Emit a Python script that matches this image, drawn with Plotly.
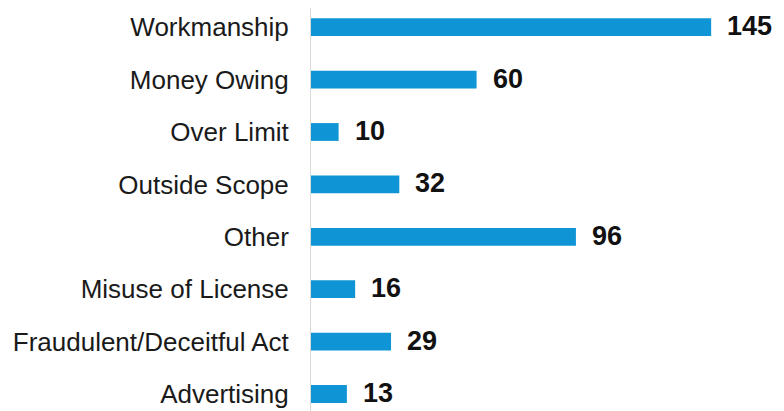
import plotly.graph_objects as go

categories = ["Workmanship", "Money Owing", "Over Limit", "Outside Scope", "Other",
              "Misuse of License", "Fraudulent/Deceitful Act", "Advertising"]
values = [145, 60, 10, 32, 96, 16, 29, 13]

# bottom-to-top order for plotting
cats_bt = categories[::-1]
vals_bt = values[::-1]

bar_color = "#0f95d6"

fig = go.Figure(go.Bar(
    x=vals_bt, y=cats_bt, orientation="h",
    marker=dict(color=bar_color, line=dict(width=0)),
    width=0.34,
    hoverinfo="skip",
))

annotations = [
    dict(x=v, y=c, text=str(v), xref="x", yref="y", xanchor="left", yanchor="middle",
         xshift=14, yshift=1, showarrow=False,
         font=dict(family="Liberation Sans Narrow, Arial Narrow, Liberation Sans, Arial",
                   size=27, color="#111111", weight="bold"))
    for c, v in zip(cats_bt, vals_bt)
]

fig.update_layout(
    width=776, height=403,
    margin=dict(l=303, r=0, t=0, b=0),
    paper_bgcolor="white", plot_bgcolor="white",
    showlegend=False,
    annotations=annotations,
    xaxis=dict(range=[0, 171.4], visible=False, fixedrange=True),
    yaxis=dict(
        type="category", categoryorder="array", categoryarray=cats_bt,
        range=[-0.324, 7.366],
        showgrid=False, zeroline=False,
        showline=True, linecolor="#d9d9d9", linewidth=1,
        ticks="outside", ticklen=16, tickcolor="rgba(0,0,0,0)",
        tickfont=dict(family="Liberation Sans, Arial", size=26, color="#1a1a1a"),
    ),
)

fig.write_html("out.html")
